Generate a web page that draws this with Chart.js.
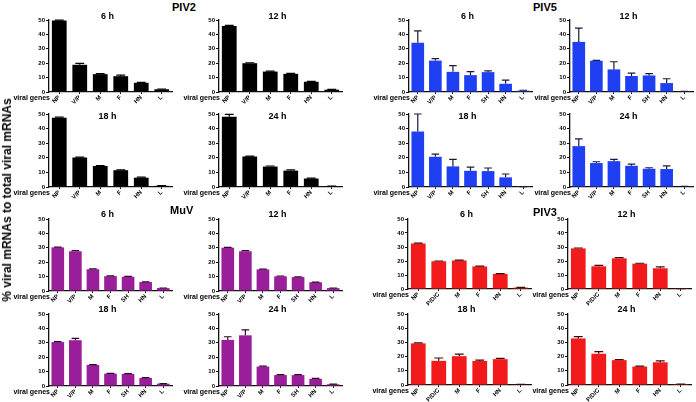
<!DOCTYPE html>
<html><head><meta charset="utf-8">
<script src="https://cdn.jsdelivr.net/npm/chart.js@4.4.1/dist/chart.umd.min.js"></script>
<style>
html,body{margin:0;padding:0;background:#fff;}
#root{position:relative;width:696px;height:402px;overflow:hidden;font-family:"Liberation Sans",Arial,sans-serif;}
canvas{position:absolute;}
.lbl{position:absolute;font-weight:bold;white-space:nowrap;color:#000;line-height:1;}
</style></head><body><div id="root"></div>
<script>
// ---------- data ----------
const piv2Genes = ['NP','V/P','M','F','HN','L'];
const piv5Genes = ['NP','V/P','M','F','SH','HN','L'];
const muvGenes  = ['NP','V/P','M','F','SH','HN','L'];
const piv3Genes = ['NP','P/D/C','M','F','HN','L'];
const timeLabels = ['6 h','12 h','18 h','24 h'];
const yTicks = [0,10,20,30,40,50];

const piv2_6h  = [49.6, 18.9, 12.4, 11.0, 6.4, 1.9];
const piv2_6h_err  = [0.3, 1.0, 0.3, 0.7, 0.3, 0.2];
const piv2_12h = [45.8, 20.0, 14.2, 12.6, 7.1, 1.6];
const piv2_12h_err = [0.4, 0.3, 0.3, 0.3, 0.3, 0.2];
const piv2_18h = [47.4, 20.2, 14.4, 11.5, 6.4, 0.8];
const piv2_18h_err = [0.4, 0.3, 0.3, 0.2, 0.3, 0.1];
const piv2_24h = [48.2, 20.9, 14.0, 11.2, 5.8, 0.6];
const piv2_24h_err = [1.5, 0.3, 0.4, 0.5, 0.3, 0.1];

const piv5_6h  = [34.2, 21.8, 14.0, 11.7, 13.8, 5.7, 0.9];
const piv5_6h_err  = [8.2, 1.4, 4.3, 2.5, 0.9, 2.6, 0.3];
const piv5_12h = [34.8, 21.7, 15.7, 11.1, 11.5, 6.2, 0.2];
const piv5_12h_err = [9.5, 0.3, 5.3, 2.0, 1.2, 3.0, 0.2];
const piv5_18h = [38.0, 20.7, 14.1, 11.1, 10.9, 6.6, 0.1];
const piv5_18h_err = [12.0, 1.8, 4.8, 2.5, 2.1, 2.3, 0.1];
const piv5_24h = [28.0, 16.4, 17.7, 14.5, 12.5, 12.3, 0.3];
const piv5_24h_err = [5.0, 0.9, 1.2, 1.2, 0.7, 2.2, 0.2];

const muv_6h  = [30.3, 27.6, 15.1, 10.3, 9.9, 6.2, 2.0];
const muv_6h_err  = [0.2, 0.5, 0.2, 0.2, 0.2, 0.1, 0.1];
const muv_12h = [30.1, 27.6, 15.0, 10.2, 9.7, 6.1, 2.0];
const muv_12h_err = [0.2, 0.5, 0.2, 0.2, 0.2, 0.1, 0.1];
const muv_18h = [30.5, 31.8, 14.6, 8.6, 8.4, 5.6, 1.6];
const muv_18h_err = [0.3, 1.3, 0.3, 0.2, 0.2, 0.2, 0.1];
const muv_24h = [32.0, 35.2, 13.5, 7.6, 7.6, 5.0, 1.2];
const muv_24h_err = [2.2, 3.8, 0.3, 0.3, 0.3, 0.3, 0.1];

const piv3_6h  = [32.5, 19.8, 20.4, 16.1, 10.8, 1.0];
const piv3_6h_err  = [0.2, 0.2, 0.2, 0.2, 0.2, 0.1];
const piv3_12h = [29.0, 16.2, 21.9, 18.1, 14.8, 0.2];
const piv3_12h_err = [0.3, 0.7, 0.5, 0.3, 1.0, 0.1];
const piv3_18h = [29.3, 17.0, 20.3, 16.9, 18.2, 0.4];
const piv3_18h_err = [0.4, 2.0, 1.5, 0.6, 0.5, 0.1];
const piv3_24h = [32.8, 22.0, 17.5, 13.0, 16.0, 0.6];
const piv3_24h_err = [1.3, 1.5, 0.3, 0.3, 1.0, 0.1];

// ---------- layout / style ----------
const FONT = '"Liberation Sans", Arial, sans-serif';
const groups = [
  {name:'PIV2', genes:piv2Genes, color:'#000000', err:'#000000',
   series:[[piv2_6h,piv2_6h_err],[piv2_12h,piv2_12h_err],[piv2_18h,piv2_18h_err],[piv2_24h,piv2_24h_err]],
   cols:[49,219], rowsTop:[20,114], rowsBot:[92,187], nameX:172, nameY:2},
  {name:'PIV5', genes:piv5Genes, color:'#1e3ff2', err:'#1a1a40',
   series:[[piv5_6h,piv5_6h_err],[piv5_12h,piv5_12h_err],[piv5_18h,piv5_18h_err],[piv5_24h,piv5_24h_err]],
   cols:[409,570], rowsTop:[20,114], rowsBot:[92,187], nameX:533, nameY:2},
  {name:'MuV', genes:muvGenes, color:'#9a1e9a', err:'#2a0a2a',
   series:[[muv_6h,muv_6h_err],[muv_12h,muv_12h_err],[muv_18h,muv_18h_err],[muv_24h,muv_24h_err]],
   cols:[49,219], rowsTop:[219,314], rowsBot:[291,386], nameX:170, nameY:205},
  {name:'PIV3', genes:piv3Genes, color:'#f21a1a', err:'#400a0a',
   series:[[piv3_6h,piv3_6h_err],[piv3_12h,piv3_12h_err],[piv3_18h,piv3_18h_err],[piv3_24h,piv3_24h_err]],
   cols:[408,568], rowsTop:[219,314], rowsBot:[289,385], nameX:533, nameY:207}
];
const titleDy = [-4.5, 2, -5, -5]; // per absolute row
const YW = 16, XH = 20, PT = 6, PR = 8, PLOTW = 123;

const root = document.getElementById('root');
function addLabel(text, x, y, size, anchor) {
  const d = document.createElement('div');
  d.className = 'lbl';
  d.textContent = text;
  d.style.fontSize = size + 'px';
  d.style.left = x + 'px';
  d.style.top = y + 'px';
  if (anchor) d.style.transform = anchor;
  root.appendChild(d);
  return d;
}

const errorBars = {
  id: 'errorBars',
  afterDatasetsDraw(chart) {
    const ctx = chart.ctx;
    const ys = chart.scales.y;
    chart.data.datasets.forEach((ds, di) => {
      const meta = chart.getDatasetMeta(di);
      ctx.save();
      ctx.strokeStyle = ds.errColor;
      ctx.lineWidth = 1.2;
      meta.data.forEach((bar, i) => {
        const v = ds.data[i], e = ds.errors[i];
        if (!e) return;
        const yTop = ys.getPixelForValue(v + e);
        const yB = bar.y;
        const hw = bar.width * 0.3;
        ctx.beginPath();
        ctx.moveTo(bar.x, yB);
        ctx.lineTo(bar.x, yTop);
        ctx.moveTo(bar.x - hw, yTop);
        ctx.lineTo(bar.x + hw, yTop);
        ctx.stroke();
      });
      ctx.restore();
    });
  }
};

groups.forEach((g, gi) => {
  addLabel(g.name, g.nameX, g.nameY, 11);
  g.series.forEach((s, si) => {
    const r = Math.floor(si / 2), c = si % 2;
    const ax = g.cols[c], y50 = g.rowsTop[r], y0 = g.rowsBot[r];
    const left = ax - YW, top = y50 - PT;
    const w = YW + PLOTW + PR, h = PT + (y0 - y50) + XH;
    const cv = document.createElement('canvas');
    cv.width = w; cv.height = h;
    cv.style.left = left + 'px'; cv.style.top = top + 'px';
    cv.style.width = w + 'px'; cv.style.height = h + 'px';
    root.appendChild(cv);
    new Chart(cv, {
      type: 'bar',
      data: {
        labels: g.genes,
        datasets: [{
          data: s[0], errors: s[1], errColor: g.err,
          backgroundColor: g.color, borderWidth: 0,
          barPercentage: 0.72, categoryPercentage: 1.0
        }]
      },
      options: {
        responsive: false, animation: false, devicePixelRatio: 1,
        layout: {padding: {top: PT, right: PR, left: 0, bottom: 0}},
        plugins: {legend: {display: false}, tooltip: {enabled: false}, title: {display: false}},
        scales: {
          x: {
            grid: {display: true, drawOnChartArea: false, drawTicks: true, tickLength: 2, offset: false, color: '#111', lineWidth: 1},
            border: {display: true, color: '#111', width: 1.3},
            ticks: {autoSkip: false, minRotation: 45, maxRotation: 45, padding: 0, color: '#000',
                    font: {family: FONT, size: 6, weight: 'bold'}},
            afterFit(sc) { sc.height = XH; }
          },
          y: {
            min: 0, max: 50,
            afterBuildTicks(sc) { sc.ticks = yTicks.map(v => ({value: v})); },
            grid: {display: true, drawOnChartArea: false, drawTicks: true, tickLength: 3, color: '#111', lineWidth: 1},
            border: {display: true, color: '#111', width: 1.3},
            ticks: {padding: 1, color: '#000', font: {family: FONT, size: 6, weight: 'bold'}},
            afterFit(sc) { sc.width = YW; }
          }
        }
      },
      plugins: [errorBars]
    });
    // panel title
    const absRow = (gi >= 2 ? 2 : 0) + r;
    const tc = addLabel(timeLabels[si], ax + PLOTW / 2 - 3, y50 + titleDy[absRow], 9, 'translate(-50%,-50%)');
    // "viral genes"
    addLabel('viral genes', ax + 1, y0 + 5, 7, 'translate(-100%,-50%)');
  });
});

// y-axis title
addLabel('% viral mRNAs to total viral mRNAs', 7, 200, 12, 'translate(-50%,-50%) rotate(-90deg)');
</script>
</body></html>
